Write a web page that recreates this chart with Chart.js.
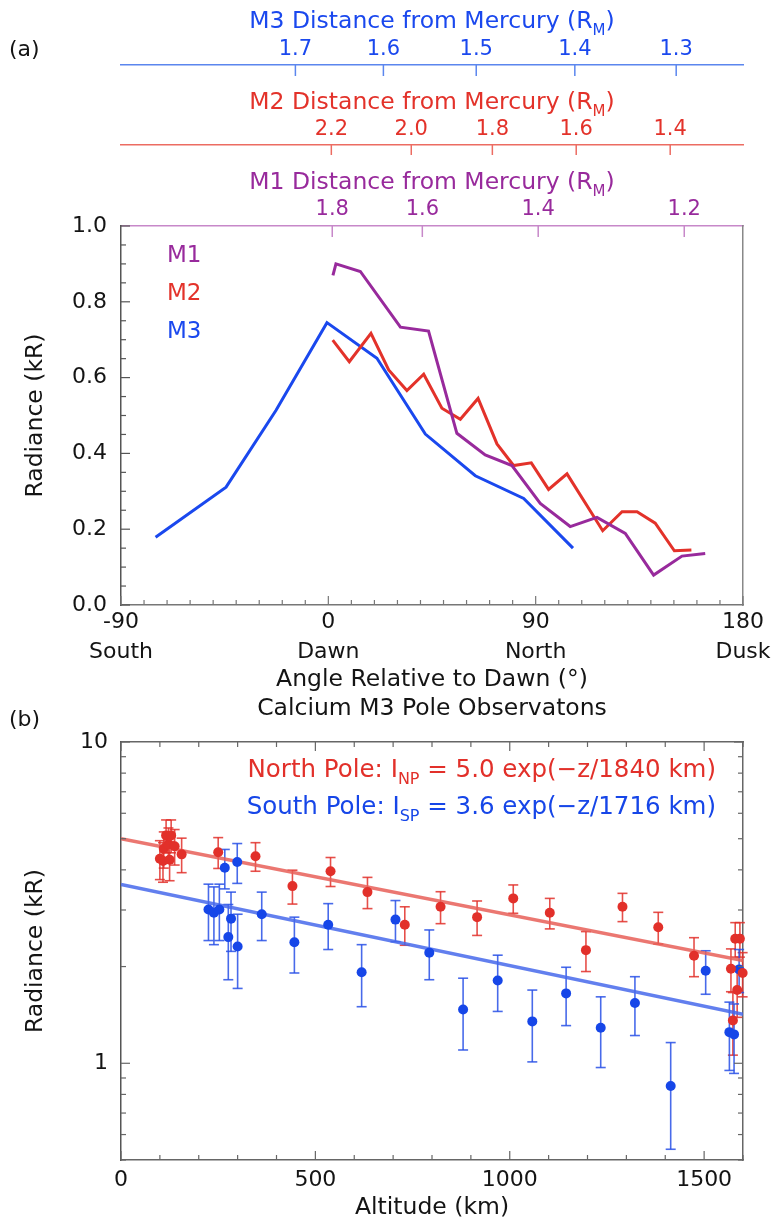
<!DOCTYPE html>
<html>
<head>
<meta charset="utf-8">
<script src="https://cdn.jsdelivr.net/npm/chart.js@4.4.1/dist/chart.umd.min.js"></script>
<style>
  html, body { margin: 0; padding: 0; background: #fff; }
  canvas { display: block; }
</style>
</head>
<body>
<canvas id="chartA" width="777" height="695"></canvas>
<canvas id="chartB" width="777" height="528"></canvas>
<script>
// ---- panel (a): radiance vs angle relative to dawn ----
const angleM1 = [2, 3.3, 13.9, 31.3, 43.5, 55.8, 68.1, 79.7, 92.0, 105.0, 116.6, 128.9, 141.2, 153.5, 163.6];
const radM1 = [0.87, 0.90, 0.88, 0.733, 0.723, 0.453, 0.396, 0.368, 0.268, 0.207, 0.231, 0.189, 0.079, 0.129, 0.136];
const angleM2 = [1.9, 9.1, 18.5, 26.2, 34.1, 41.4, 49.3, 57.3, 65.0, 73.2, 80.4, 88.1, 95.6, 103.6, 119.1, 127.5, 134.0, 141.9, 150.2, 157.6];
const radM2 = [0.699, 0.642, 0.717, 0.620, 0.566, 0.609, 0.519, 0.490, 0.545, 0.425, 0.368, 0.375, 0.305, 0.346, 0.196, 0.246, 0.246, 0.216, 0.143, 0.145];
const angleM3 = [-75, -44.4, -22.7, -0.6, 21.1, 42.1, 63.8, 84.8, 106.2];
const radM3 = [0.179, 0.311, 0.514, 0.745, 0.651, 0.451, 0.341, 0.281, 0.150];

const angleTicks = [-90, 0, 90, 180];
const angleTickLabels = ['-90', '0', '90', '180'];
const angleNames = ['South', 'Dawn', 'North', 'Dusk'];
const radTicks = [0, 0.2, 0.4, 0.6, 0.8, 1.0];
const radTickLabels = ['0.0', '0.2', '0.4', '0.6', '0.8', '1.0'];

// distance axes: label and the angle where it sits
const m1Dist = ['1.8', '1.6', '1.4', '1.2'];
const m1DistAngle = [1.7, 40.8, 91.1, 154.5];
const m2Dist = ['2.2', '2.0', '1.8', '1.6', '1.4'];
const m2DistAngle = [1.3, 36.0, 71.2, 107.6, 148.4];
const m3Dist = ['1.7', '1.6', '1.5', '1.4', '1.3'];
const m3DistAngle = [-14.3, 23.9, 64.2, 107.0, 151.0];

// ---- panel (b): calcium M3 pole observations ----
const altNorth = [100, 108, 110, 116, 122, 125, 129, 138, 156, 250, 346, 441, 539, 634, 730, 822, 916, 1009, 1103, 1196, 1290, 1382, 1474, 1569, 1574, 1580, 1585, 1592, 1599];
const radNorth = [4.33, 4.26, 4.65, 5.12, 4.80, 4.30, 5.12, 4.74, 4.47, 4.54, 4.41, 3.56, 3.96, 3.41, 2.70, 3.07, 2.85, 3.26, 2.94, 2.25, 3.07, 2.65, 2.16, 1.97, 1.36, 2.44, 1.69, 2.44, 1.91];
const errNorth = [0.6, 0.6, 0.6, 0.6, 0.6, 0.6, 0.6, 0.6, 0.55, 0.5, 0.45, 0.43, 0.41, 0.38, 0.37, 0.35, 0.35, 0.33, 0.32, 0.32, 0.31, 0.3, 0.3, 0.3, 0.3, 0.3, 0.3, 0.3, 0.3];
const altSouth = [225, 239, 253, 267, 276, 283, 299, 300, 362, 446, 533, 619, 706, 793, 880, 969, 1058, 1145, 1234, 1322, 1414, 1504, 1565, 1577, 1590];
const radSouth = [3.01, 2.94, 3.01, 4.06, 2.47, 2.82, 4.23, 2.31, 2.91, 2.38, 2.70, 1.92, 2.80, 2.21, 1.47, 1.81, 1.35, 1.65, 1.29, 1.54, 0.85, 1.94, 1.25, 1.23, 1.96];
const errSouth = [0.6, 0.6, 0.6, 0.57, 0.65, 0.59, 0.6, 0.6, 0.5, 0.47, 0.44, 0.42, 0.41, 0.39, 0.37, 0.36, 0.34, 0.34, 0.32, 0.32, 0.31, 0.3, 0.3, 0.3, 0.3];
const fitAlt = [0, 1600];
const fitNorth = [5.0, 2.09];
const fitSouth = [3.6, 1.42];

const altTicks = [0, 500, 1000, 1500];
const altTickLabels = ['0', '500', '1000', '1500'];
const logTicks = [1, 10];
const logTickLabels = ['1', '10'];

const FONT = '"DejaVu Sans", sans-serif';
const INK = '#141414';
const C_M1 = '#982a9c', C_M2 = '#e3322a', C_M3 = '#1a48ee';
const L_M1 = '#c788c9', L_M2 = '#ec6c62', L_M3 = '#5b86ee';
const C_N = '#e2302a', C_S = '#1646e8';

function pts(xs, ys) { return xs.map((x, i) => ({ x: x, y: ys[i] })); }
function fixedTicks(values) { return s => { s.ticks = values.map(v => ({ value: v })); }; }
const noGrid = { display: true, drawOnChartArea: false, drawTicks: false };

function seg(ctx, x1, y1, x2, y2) {
  ctx.beginPath(); ctx.moveTo(x1, y1); ctx.lineTo(x2, y2); ctx.stroke();
}

// text with subscripts: parts = [[text, isSub], ...]
function drawRich(ctx, parts, x, y, align, size, color) {
  ctx.save();
  ctx.fillStyle = color;
  ctx.textAlign = 'left';
  ctx.textBaseline = 'alphabetic';
  const big = size + 'px ' + FONT, small = Math.round(size * 0.65) + 'px ' + FONT;
  let w = 0;
  parts.forEach(p => { ctx.font = p[1] ? small : big; w += ctx.measureText(p[0]).width; });
  let cx = align === 'center' ? x - w / 2 : align === 'right' ? x - w : x;
  parts.forEach(p => {
    ctx.font = p[1] ? small : big;
    ctx.fillText(p[0], cx, p[1] ? y + size * 0.3 : y);
    cx += ctx.measureText(p[0]).width;
  });
  ctx.restore();
}

function distAxis(weight, height, angles, labels, color, lineColor, pad) {
  return {
    type: 'linear', position: 'top', weight: weight, min: -90, max: 180,
    afterFit: s => { s.height = height; },
    afterBuildTicks: fixedTicks(angles),
    ticks: { callback: (v, i) => labels[i], autoSkip: false, maxRotation: 0, color: color, padding: pad, font: { family: FONT, size: 21 } },
    grid: noGrid,
    border: { display: true, color: lineColor, width: 1.5 }
  };
}

// ==========================================
// PANEL (a)
// ==========================================
const panelA = {
  id: 'panelA',
  afterDraw(chart) {
    const { ctx, chartArea: ca, scales } = chart;
    ctx.save();
    ctx.lineWidth = 1.2;

    // inward ticks on left axis
    ctx.strokeStyle = '#555';
    for (let k = 0; k <= 20; k++) {
      const y = scales.y.getPixelForValue(k * 0.05);
      seg(ctx, ca.left, y, ca.left + (k % 4 === 0 ? 9 : 5), y);
    }
    // inward ticks on bottom axis
    ctx.strokeStyle = '#777';
    for (let a = -90; a <= 180; a += 10) {
      const x = scales.x.getPixelForValue(a);
      seg(ctx, x, ca.bottom, x, ca.bottom - (a % 90 === 0 ? 9 : 5));
    }
    // distance axis ticks, pointing down
    ctx.lineWidth = 1.5;
    ctx.strokeStyle = L_M1;
    m1DistAngle.forEach(a => { const x = scales.xM1.getPixelForValue(a); seg(ctx, x, ca.top, x, ca.top + 11); });
    ctx.strokeStyle = L_M2;
    m2DistAngle.forEach(a => { const x = scales.xM2.getPixelForValue(a); seg(ctx, x, scales.xM2.bottom, x, scales.xM2.bottom + 10); });
    ctx.strokeStyle = L_M3;
    m3DistAngle.forEach(a => { const x = scales.xM3.getPixelForValue(a); seg(ctx, x, scales.xM3.bottom, x, scales.xM3.bottom + 11); });
    ctx.restore();

    const cx = (ca.left + ca.right) / 2;
    drawRich(ctx, [['M3 Distance from Mercury (R'], ['M', 1], [')']], cx, 28, 'center', 23.5, C_M3);
    drawRich(ctx, [['M2 Distance from Mercury (R'], ['M', 1], [')']], cx, 109, 'center', 23.5, C_M2);
    drawRich(ctx, [['M1 Distance from Mercury (R'], ['M', 1], [')']], cx, 189, 'center', 23.5, C_M1);

    drawRich(ctx, [['M1']], ca.left + 46, 262, 'left', 23, C_M1);
    drawRich(ctx, [['M2']], ca.left + 46, 300, 'left', 23, C_M2);
    drawRich(ctx, [['M3']], ca.left + 46, 338, 'left', 23, C_M3);
    drawRich(ctx, [['(a)']], 9, 56, 'left', 22, INK);
  }
};

new Chart(document.getElementById('chartA'), {
  type: 'line',
  data: {
    datasets: [
      { label: 'M1', data: pts(angleM1, radM1), borderColor: C_M1, borderWidth: 3, pointRadius: 0, tension: 0 },
      { label: 'M2', data: pts(angleM2, radM2), borderColor: C_M2, borderWidth: 3, pointRadius: 0, tension: 0 },
      { label: 'M3', data: pts(angleM3, radM3), borderColor: C_M3, borderWidth: 3, pointRadius: 0, tension: 0 }
    ]
  },
  options: {
    responsive: false, animation: false, events: [],
    layout: { padding: 0 },
    plugins: { legend: { display: false }, tooltip: { enabled: false } },
    scales: {
      x: {
        type: 'linear', position: 'bottom', min: -90, max: 180,
        afterFit: s => { s.height = 90; },
        afterBuildTicks: fixedTicks(angleTicks),
        ticks: { callback: (v, i) => [angleTickLabels[i], angleNames[i]], autoSkip: false, maxRotation: 0, color: INK, padding: 2, font: { family: FONT, size: 22, lineHeight: '30px' } },
        grid: noGrid,
        border: { display: true, color: '#777', width: 1.5 },
        title: { display: true, text: 'Angle Relative to Dawn (\u00b0)', color: INK, font: { family: FONT, size: 23.5 }, padding: { top: 0, bottom: 1 } }
      },
      xM1: distAxis(0, 81, m1DistAngle, m1Dist, C_M1, L_M1, 4),
      xM2: distAxis(1, 80, m2DistAngle, m2Dist, C_M2, L_M2, 3),
      xM3: distAxis(2, 65, m3DistAngle, m3Dist, C_M3, L_M3, 3),
      y: {
        type: 'linear', position: 'left', min: 0, max: 1,
        afterFit: s => { s.width = 121; },
        afterBuildTicks: fixedTicks(radTicks),
        ticks: { callback: (v, i) => radTickLabels[i], color: INK, padding: 14, font: { family: FONT, size: 22 } },
        grid: noGrid,
        border: { display: true, color: '#555', width: 1.5 },
        title: { display: true, text: 'Radiance (kR)', color: INK, font: { family: FONT, size: 23.5 }, padding: { top: 22, bottom: 0 } }
      },
      yR: {
        type: 'linear', position: 'right', min: 0, max: 1,
        afterFit: s => { s.width = 34; },
        ticks: { display: false },
        grid: noGrid,
        border: { display: true, color: '#888', width: 1.5 }
      }
    }
  },
  plugins: [panelA]
});

// ==========================================
// PANEL (b)
// ==========================================
function drawErrors(ctx, sx, sy, xs, vs, es, color) {
  ctx.save();
  ctx.strokeStyle = color;
  ctx.lineWidth = 1.6;
  xs.forEach((a, i) => {
    const x = sx.getPixelForValue(a);
    const y1 = sy.getPixelForValue(vs[i] + es[i]);
    const y2 = sy.getPixelForValue(vs[i] - es[i]);
    seg(ctx, x, y1, x, y2);
    seg(ctx, x - 5, y1, x + 5, y1);
    seg(ctx, x - 5, y2, x + 5, y2);
  });
  ctx.restore();
}

const panelB = {
  id: 'panelB',
  beforeDatasetsDraw(chart) {
    const { ctx, scales } = chart;
    drawErrors(ctx, scales.x, scales.y, altNorth, radNorth, errNorth, 'rgba(226,48,42,0.85)');
    drawErrors(ctx, scales.x, scales.y, altSouth, radSouth, errSouth, 'rgba(40,80,230,0.85)');
  },
  afterDraw(chart) {
    const { ctx, chartArea: ca, scales } = chart;
    ctx.save();
    ctx.lineWidth = 1.2;
    ctx.strokeStyle = '#666';
    // log ticks on left and right
    [0.5, 0.6, 0.7, 0.8, 0.9, 1, 2, 3, 4, 5, 6, 7, 8, 9, 10].forEach(v => {
      const y = scales.y.getPixelForValue(v);
      const len = (v === 1 || v === 10) ? 9 : 5;
      seg(ctx, ca.left, y, ca.left + len, y);
      seg(ctx, ca.right, y, ca.right - len, y);
    });
    // altitude ticks on bottom and top
    for (let a = 0; a <= 1600; a += 100) {
      const x = scales.x.getPixelForValue(a);
      const len = a % 500 === 0 ? 9 : 5;
      seg(ctx, x, ca.bottom, x, ca.bottom - len);
      seg(ctx, x, ca.top, x, ca.top + len);
    }
    ctx.restore();

    drawRich(ctx, [['North Pole: I'], ['NP', 1], [' = 5.0 exp(\u2212z/1840 km)']], ca.right - 27, 82, 'right', 24.5, C_N);
    drawRich(ctx, [['South Pole: I'], ['SP', 1], [' = 3.6 exp(\u2212z/1716 km)']], ca.right - 27, 119, 'right', 24.5, C_S);
    drawRich(ctx, [['(b)']], 9, 31, 'left', 22, INK);
  }
};

new Chart(document.getElementById('chartB'), {
  type: 'scatter',
  data: {
    datasets: [
      { type: 'scatter', label: 'North Pole', data: pts(altNorth, radNorth), backgroundColor: C_N, borderWidth: 0, pointRadius: 5, clip: false, order: 1 },
      { type: 'scatter', label: 'South Pole', data: pts(altSouth, radSouth), backgroundColor: C_S, borderWidth: 0, pointRadius: 5, clip: false, order: 1 },
      { type: 'line', label: 'North fit', data: pts(fitAlt, fitNorth), borderColor: 'rgba(232,95,88,0.85)', borderWidth: 3.5, pointRadius: 0, order: 2 },
      { type: 'line', label: 'South fit', data: pts(fitAlt, fitSouth), borderColor: 'rgba(70,105,235,0.85)', borderWidth: 3.5, pointRadius: 0, order: 2 }
    ]
  },
  options: {
    responsive: false, animation: false, events: [],
    layout: { padding: 0 },
    plugins: { legend: { display: false }, tooltip: { enabled: false } },
    scales: {
      x: {
        type: 'linear', position: 'bottom', min: 0, max: 1600,
        afterFit: s => { s.height = 63; },
        afterBuildTicks: fixedTicks(altTicks),
        ticks: { callback: (v, i) => altTickLabels[i], autoSkip: false, maxRotation: 0, color: INK, padding: 7, font: { family: FONT, size: 22 } },
        grid: noGrid,
        border: { display: true, color: '#666', width: 1.5 },
        title: { display: true, text: 'Altitude (km)', color: INK, font: { family: FONT, size: 23.5 }, padding: { top: 0, bottom: 1 } }
      },
      xT: {
        type: 'linear', position: 'top', min: 0, max: 1600,
        afterFit: s => { s.height = 47; },
        ticks: { display: false },
        grid: noGrid,
        border: { display: true, color: '#666', width: 1.5 },
        title: { display: true, text: 'Calcium M3 Pole Observatons', color: INK, font: { family: FONT, size: 23.5 }, padding: { top: 0, bottom: 0 } }
      },
      y: {
        type: 'logarithmic', position: 'left', min: 0.5, max: 10,
        afterFit: s => { s.width = 121; },
        afterBuildTicks: fixedTicks(logTicks),
        ticks: { callback: (v, i) => logTickLabels[i], color: INK, padding: 13, font: { family: FONT, size: 22 } },
        grid: noGrid,
        border: { display: true, color: '#555', width: 1.5 },
        title: { display: true, text: 'Radiance (kR)', color: INK, font: { family: FONT, size: 23.5 }, padding: { top: 22, bottom: 0 } }
      },
      yR: {
        type: 'logarithmic', position: 'right', min: 0.5, max: 10,
        afterFit: s => { s.width = 34; },
        ticks: { display: false },
        grid: noGrid,
        border: { display: true, color: '#666', width: 1.5 }
      }
    }
  },
  plugins: [panelB]
});
</script>
</body>
</html>
